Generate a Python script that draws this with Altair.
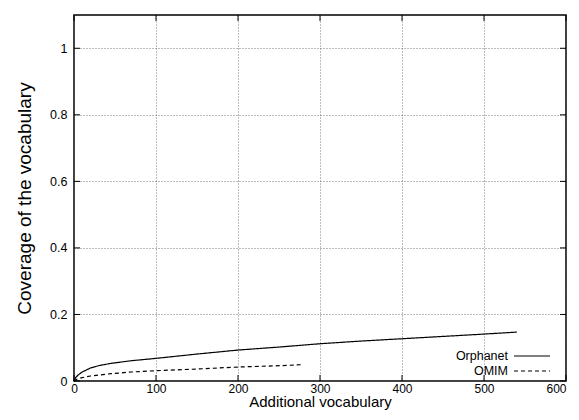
import altair as alt
import pandas as pd

orph_x = [0, 2, 5, 10, 20, 30, 45, 70, 100, 150, 200, 250, 300, 350, 400, 450, 500, 540]
orph_y = [0.0, 0.010, 0.018, 0.027, 0.039, 0.046, 0.053, 0.061, 0.068, 0.081, 0.093, 0.102, 0.112, 0.120, 0.127, 0.134, 0.141, 0.147]
omim_x = [0, 2, 5, 10, 20, 45, 70, 100, 150, 200, 250, 278]
omim_y = [0.0, 0.004, 0.007, 0.010, 0.015, 0.022, 0.027, 0.031, 0.036, 0.042, 0.046, 0.049]
x_ticks = [0, 100, 200, 300, 400, 500, 600]
y_ticks = [0, 0.2, 0.4, 0.6, 0.8, 1.0]
series = ["Orphanet", "OMIM"]

FONT = "Liberation Sans"
W, H = 492, 366

df = pd.concat([
    pd.DataFrame({"x": orph_x, "y": orph_y, "s": series[0]}),
    pd.DataFrame({"x": omim_x, "y": omim_y, "s": series[1]}),
])

xs = alt.Scale(domain=[0, 600], nice=False, zero=False)
ys = alt.Scale(domain=[0, 1.1], nice=False, zero=False)
dash = alt.Scale(domain=series, range=[[1, 0], [4, 3]])

base = alt.Chart(df).mark_line(color="black", strokeWidth=1.2).encode(
    x=alt.X("x:Q", scale=xs, axis=alt.Axis(
        values=x_ticks, title="Additional vocabulary", grid=True,
        gridDash=[1, 2], gridColor="#555", gridWidth=0.8,
        tickSize=0, labelPadding=2, labelFontSize=12, labelFont=FONT, labelFlush=False,
        labelAlign={"condition": {"test": "datum.value == 600", "value": "right"}, "value": "center"},
        titleFont=FONT, titleFontSize=15, titleFontWeight="normal",
        titleY=25, titleBaseline="alphabetic",
        domain=False, labelColor="black", titleColor="black")),
    y=alt.Y("y:Q", scale=ys, axis=alt.Axis(
        values=y_ticks, format="~g", title="Coverage of the vocabulary", grid=True,
        gridDash=[1, 2], gridColor="#555", gridWidth=0.8,
        tickSize=0, labelPadding=7, labelFontSize=12.5, labelFont=FONT, labelFlush=False,
        titleFont=FONT, titleFontSize=19, titleFontWeight="normal", titlePadding=15,
        domain=False, labelColor="black", titleColor="black")),
    strokeDash=alt.StrokeDash("s:N", scale=dash, legend=None),
    detail="s:N",
)

# inward tick marks
xt = pd.DataFrame({"x": x_ticks})
yt = pd.DataFrame({"y": y_ticks})
tick_b = alt.Chart(xt).mark_rule(color="black", strokeWidth=1).encode(
    x=alt.X("x:Q", scale=xs), y=alt.value(H), y2=alt.value(H - 6))
tick_t = alt.Chart(xt).mark_rule(color="black", strokeWidth=1).encode(
    x=alt.X("x:Q", scale=xs), y=alt.value(0), y2=alt.value(6))
tick_l = alt.Chart(yt).mark_rule(color="black", strokeWidth=1).encode(
    y=alt.Y("y:Q", scale=ys), x=alt.value(0), x2=alt.value(6))
tick_r = alt.Chart(yt).mark_rule(color="black", strokeWidth=1).encode(
    y=alt.Y("y:Q", scale=ys), x=alt.value(W), x2=alt.value(W - 6))

# legend (gnuplot style: label left of sample)
leg_layers = []
for name, py in zip(series, [341, 356]):
    d = pd.DataFrame({"s": [name]})
    leg_layers.append(alt.Chart(d).mark_text(align="right", baseline="middle", font=FONT,
                                              fontSize=12.5, color="black").encode(
        text="s:N", x=alt.value(434), y=alt.value(py)))
    leg_layers.append(alt.Chart(d).mark_rule(color="black", strokeWidth=1.2).encode(
        x=alt.value(440), x2=alt.value(476), y=alt.value(py),
        strokeDash=alt.StrokeDash("s:N", scale=dash, legend=None)))

chart = alt.layer(base, tick_b, tick_t, tick_l, tick_r, *leg_layers).properties(
    width=W, height=H,
    background="white",
    autosize=alt.AutoSizeParams(type="none"),
    padding={"left": 66, "top": 7, "right": 5, "bottom": 30},
).configure_view(stroke="black", strokeWidth=1.5)

chart.save("out.html", embed_options={"renderer": "svg", "actions": False})
